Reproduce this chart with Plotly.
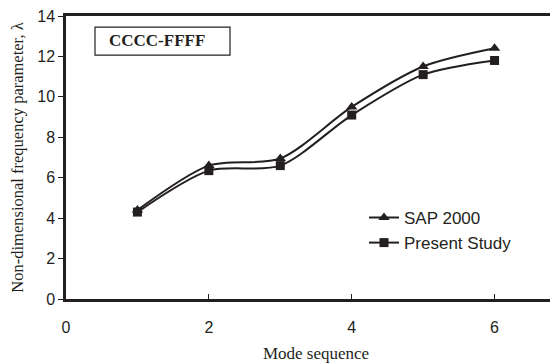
import plotly.graph_objects as go

modes = [1, 2, 3, 4, 5, 6]
sap2000 = [4.4, 6.6, 6.95, 9.5, 11.5, 12.4]
present_study = [4.3, 6.35, 6.6, 9.1, 11.1, 11.8]
x_ticks = [0, 2, 4, 6]
y_ticks = [0, 2, 4, 6, 8, 10, 12, 14]

ink = "#231f20"
sans = "Liberation Sans, Arial"
serif = "Liberation Serif, Times New Roman"

fig = go.Figure()
fig.add_trace(go.Scatter(
    x=modes, y=sap2000, name="SAP 2000", mode="lines+markers",
    line=dict(color=ink, width=2, shape="spline", smoothing=0.8),
    marker=dict(symbol="triangle-up", size=10, color=ink),
))
fig.add_trace(go.Scatter(
    x=modes, y=present_study, name="Present Study", mode="lines+markers",
    line=dict(color=ink, width=2, shape="spline", smoothing=0.8),
    marker=dict(symbol="square", size=9, color=ink),
))

# page body has an 8px margin, so the figure is laid out 8px up/left
fig.update_layout(
    width=558, height=364,
    margin=dict(l=58, r=0, t=8, b=73, autoexpand=False),
    paper_bgcolor="white", plot_bgcolor="white",
    showlegend=True,
    legend=dict(x=0.596, y=0.35, xanchor="left", yanchor="top",
                font=dict(family=sans, size=17, color=ink),
                bgcolor="rgba(0,0,0,0)", itemwidth=30, tracegroupgap=0),
    xaxis=dict(range=[0, 7], tickvals=x_ticks, ticks="inside", ticklen=5,
               tickcolor=ink, showline=True, linecolor=ink, linewidth=2.5,
               mirror=True, showgrid=False, zeroline=False, automargin=False,
               tickfont=dict(family=sans, size=16, color=ink),
               ticklabelstandoff=12, ticklabeloverflow="allow",
               title=dict(text="Mode sequence", standoff=13,
                          font=dict(family=serif, size=17, color=ink))),
    yaxis=dict(range=[0, 14], tickvals=y_ticks, ticks="outside", ticklen=5,
               tickcolor=ink, showline=True, linecolor=ink, linewidth=2.5,
               mirror=False, showgrid=False, zeroline=False, automargin=False,
               tickfont=dict(family=sans, size=16, color=ink),
               ticklabeloverflow="allow",
               title=dict(text="Non-dimensional frequency parameter, λ", standoff=12,
                          font=dict(family=serif, size=16.5, color=ink))),
    shapes=[dict(type="rect", xref="paper", yref="paper",
                 x0=0.058, x1=0.328, y0=0.862, y1=0.961,
                 line=dict(color=ink, width=1.2), fillcolor="white")],
    annotations=[dict(
        text="<b>CCCC-FFFF</b>", xref="paper", yref="paper",
        x=0.082, y=0.9117, xanchor="left", yanchor="middle", showarrow=False,
        font=dict(family=serif, size=17, color=ink))],
)

fig.write_html("out.html")
